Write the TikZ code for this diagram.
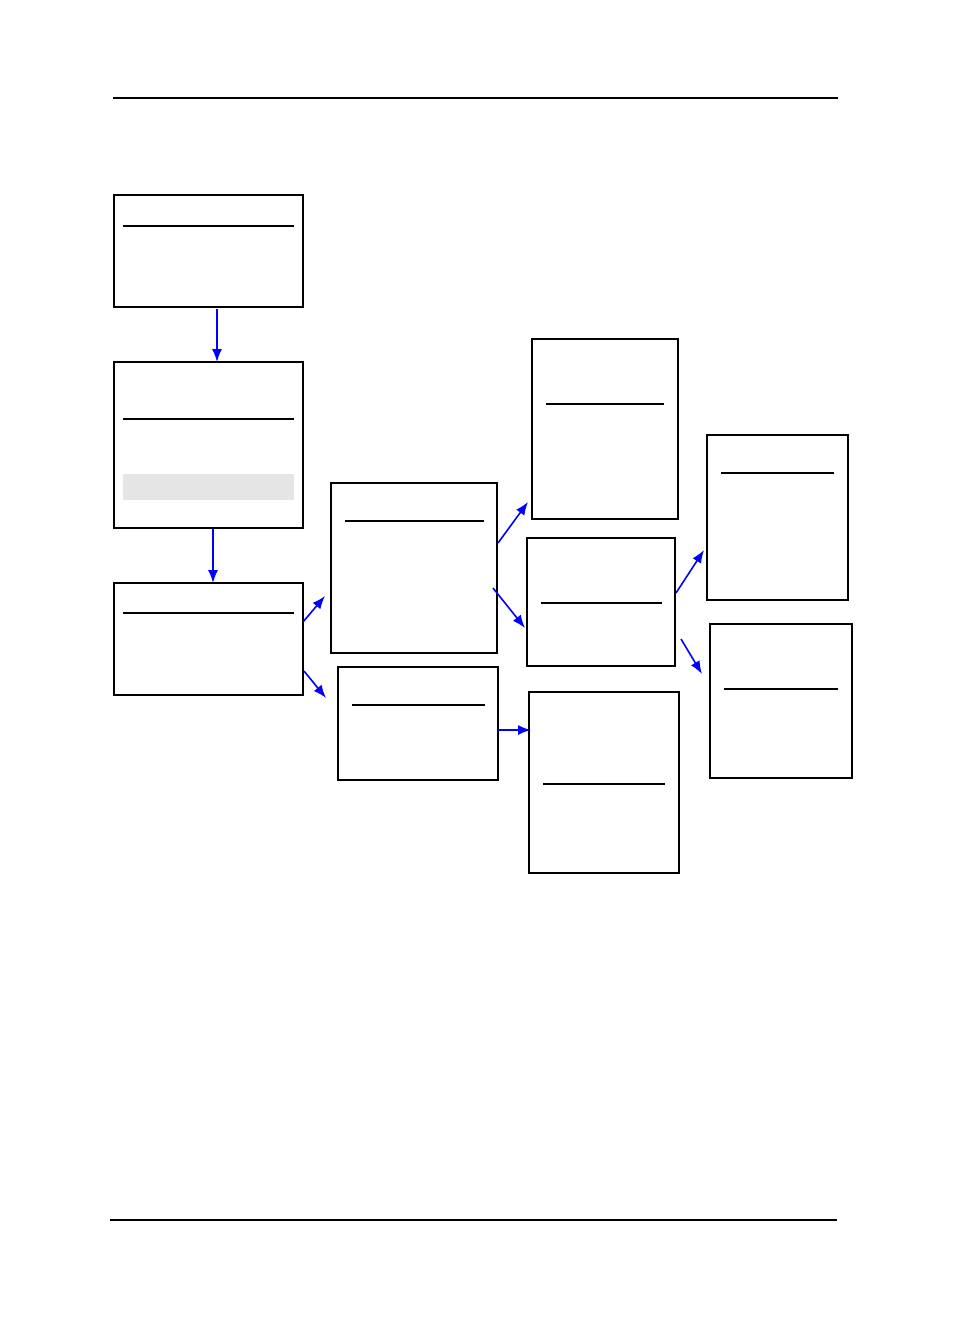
\documentclass[tikz,border=0pt]{standalone}
\usepackage{tikz}
\usetikzlibrary{arrows.meta,positioning}

\begin{document}
\begin{tikzpicture}[
  x=1pt, y=-1pt,
  panel/.style={draw, line width=1.4pt, inner sep=0pt, outer sep=0pt},
  thickpanel/.style={panel, line width=2.2pt},
  rule/.style={line width=1.1pt},
  arrow/.style={-{Latex[length=13pt,width=10pt]}, blue, line width=1.6pt}]
\useasboundingbox (0,0) rectangle (954,1336);
% page rules
\draw[line width=1.8pt] (113,98) -- (838,98);
\draw[line width=1.8pt] (110,1220) -- (837,1220);
% left column
\node[panel, minimum width=189pt, minimum height=112pt] (start) at (208.5,251) {};
\node[panel, minimum width=189pt, minimum height=166pt] (setup) at (208.5,445) {};
\node[panel, minimum width=189pt, minimum height=112pt] (check) at (208.5,639) {};
% middle column
\node[thickpanel, minimum width=166pt, minimum height=170pt] (main) at (414,568) {};
\node[panel, minimum width=160pt, minimum height=113pt] (side) at (418,723.5) {};
% third column
\node[thickpanel, minimum width=146pt, minimum height=180pt] (upper) at (605,429) {};
\node[panel, minimum width=148pt, minimum height=128pt] (mid) at (601,602) {};
\node[panel, minimum width=150pt, minimum height=181pt] (lower) at (604,782.5) {};
% right column
\node[panel, minimum width=141pt, minimum height=165pt] (endA) at (777.5,517.5) {};
\node[thickpanel, minimum width=142pt, minimum height=154pt] (endB) at (781,701) {};
% title rules
\draw[line width=2.2pt] (123,226) -- (294,226);
\draw[rule] (123,419) -- (294,419);
\fill[gray!20] (123,474) rectangle (294,500);
\draw[rule] (123,613) -- (294,613);
\draw[rule] (345,521) -- (484,521);
\draw[rule] (352,705) -- (485,705);
\draw[rule] (546,404) -- (664,404);
\draw[rule] (541,603) -- (662,603);
\draw[rule] (543,784) -- (665,784);
\draw[rule] (721,473) -- (834,473);
\draw[rule] (724,689) -- (838,689);
% connectors
\coordinate (s1) at (217,309);
\coordinate (s2) at (213,529);
\coordinate (c1) at (303,622);
\coordinate (c1e) at (325,596);
\coordinate (c2) at (304,671);
\coordinate (c2e) at (326,698);
\coordinate (m1) at (498,543);
\coordinate (m1e) at (528,502);
\coordinate (m2) at (493,588);
\coordinate (m2e) at (525,628);
\coordinate (e1) at (498,730);
\coordinate (e1e) at (531,730);
\coordinate (g1) at (676,593);
\coordinate (g1e) at (704,550);
\coordinate (g2) at (681,639);
\coordinate (g2e) at (702,674);
\draw[arrow] (s1) -- (s1 |- setup.north);
\draw[arrow] (s2) -- (s2 |- check.north);
\draw[arrow] (c1) -- (c1e);
\draw[arrow] (c2) -- (c2e);
\draw[arrow] (m1) -- (m1e);
\draw[arrow] (m2) -- (m2e);
\draw[arrow] (e1) -- (e1e);
\draw[arrow] (g1) -- (g1e);
\draw[arrow] (g2) -- (g2e);
\end{tikzpicture}
\end{document}
